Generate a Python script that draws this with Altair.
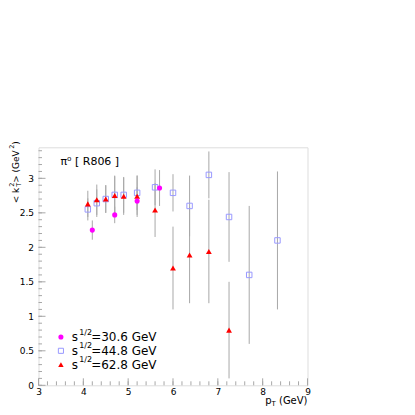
import altair as alt
import pandas as pd

# ---- data ----
x_306 = [4.2, 4.7, 5.2, 5.7]
y_306 = [2.25, 2.47, 2.67, 2.86]
e_306 = [0.14, 0.12, 0.20, 0.26]

x_448 = [4.1, 4.3, 4.5, 4.7, 4.9, 5.2, 5.6, 6.0, 6.37, 6.8, 7.25, 7.7, 8.33]
y_448 = [2.55, 2.64, 2.70, 2.76, 2.76, 2.79, 2.87, 2.79, 2.60, 3.05, 2.44, 1.60, 2.10]
e_448 = [0.16, 0.20, 0.20, 0.28, 0.26, 0.25, 0.26, 0.27, 0.44, 0.34, 0.65, 1.00, 1.00]

x_628 = [4.1, 4.3, 4.5, 4.7, 4.9, 5.2, 5.6, 6.0, 6.37, 6.8, 7.25]
y_628 = [2.63, 2.69, 2.70, 2.75, 2.74, 2.74, 2.54, 1.70, 1.89, 1.94, 0.80]
e_628 = [0.19, 0.22, 0.20, 0.28, 0.27, 0.30, 0.39, 0.60, 0.70, 0.75, 0.70]

series = ["30.6", "44.8", "62.8"]
legend_y = [0.70, 0.50, 0.30]

x_major = [3, 4, 5, 6, 7, 8, 9]
x_minor = [round(3 + 0.2 * i, 2) for i in range(31)]
y_major = [0, 0.5, 1, 1.5, 2, 2.5, 3]
y_minor = [round(0.1 * i, 2) for i in range(35)]

W, H = 269, 238
GREY = "#a8a8a8"
FONT = "DejaVu Sans"


def frame(x, y, e, s):
    return pd.DataFrame({
        "x": x, "y": y,
        "lo": [a - b for a, b in zip(y, e)],
        "hi": [a + b for a, b in zip(y, e)],
        "s": s,
    })


df = pd.concat([
    frame(x_306, y_306, e_306, "30.6"),
    frame(x_448, y_448, e_448, "44.8"),
    frame(x_628, y_628, e_628, "62.8"),
], ignore_index=True)

xs = alt.Scale(domain=[3, 9], nice=False, zero=False)
ys = alt.Scale(domain=[0, 3.45], nice=False, zero=False)

xaxis = alt.Axis(values=x_major, ticks=False, domain=False, grid=False,
                 labelFont=FONT, labelFontSize=9, labelPadding=2,
                 labelFlush=False, labelOverlap=False, format="~g",
                 title=None, labelColor="black")
yaxis = alt.Axis(values=y_major, ticks=False, domain=False, grid=False,
                 labelFont=FONT, labelFontSize=9, labelPadding=5,
                 labelFlush=False, labelOverlap=False, format="~g",
                 title=None, labelColor="black")


def PX(field):
    return alt.X(field, scale=xs, axis=xaxis)


def PY(field):
    return alt.Y(field, scale=ys, axis=yaxis)


base = alt.Chart(df)

err = base.mark_rule(color=GREY, strokeWidth=1).encode(
    x=PX("x:Q"), y=PY("lo:Q"), y2="hi:Q",
)

sq = base.transform_filter("datum.s == '44.8'").mark_point(
    shape="square", filled=False, stroke="#9999ff", strokeWidth=1, size=30, opacity=1
).encode(x=PX("x:Q"), y=PY("y:Q"))
tri = base.transform_filter("datum.s == '62.8'").mark_point(
    shape="triangle-up", filled=True, color="#ff0000", size=34, opacity=1
).encode(x=PX("x:Q"), y=PY("y:Q"))
circ = base.transform_filter("datum.s == '30.6'").mark_point(
    shape="circle", filled=True, color="#ff00ff", size=26, opacity=1
).encode(x=PX("x:Q"), y=PY("y:Q"))

# ---- axis ticks (drawn inward, as in the reference) ----
xmaj = alt.Chart(pd.DataFrame({"x": x_major})).mark_rule(color=GREY).encode(
    x=PX("x:Q"), y=alt.value(H), y2=alt.value(H - 7))
xmin = alt.Chart(pd.DataFrame({"x": x_minor})).mark_rule(color=GREY).encode(
    x=PX("x:Q"), y=alt.value(H), y2=alt.value(H - 4))
ymaj = alt.Chart(pd.DataFrame({"y": y_major})).mark_rule(color=GREY).encode(
    y=PY("y:Q"), x=alt.value(0), x2=alt.value(7))
ymin = alt.Chart(pd.DataFrame({"y": y_minor})).mark_rule(color=GREY).encode(
    y=PY("y:Q"), x=alt.value(0), x2=alt.value(3.5))

# ---- legend ----
leg = pd.DataFrame({"s": series, "y": legend_y, "mx": [3.5] * 3, "tx": [3.74] * 3,
                    "label": ["=" + s + " GeV" for s in series]})
lbase = alt.Chart(leg)
leg_c = lbase.transform_filter("datum.s == '30.6'").mark_point(
    shape="circle", filled=True, color="#ff00ff", size=26, opacity=1
).encode(x=PX("mx:Q"), y=PY("y:Q"))
leg_s = lbase.transform_filter("datum.s == '44.8'").mark_point(
    shape="square", filled=False, stroke="#9999ff", strokeWidth=1, size=26, opacity=1
).encode(x=PX("mx:Q"), y=PY("y:Q"))
leg_t = lbase.transform_filter("datum.s == '62.8'").mark_point(
    shape="triangle-up", filled=True, color="#ff0000", size=30, opacity=1
).encode(x=PX("mx:Q"), y=PY("y:Q"))
leg_s1 = lbase.mark_text(text="s", align="left", baseline="middle", font=FONT,
                         fontSize=12, color="black").encode(x=PX("tx:Q"), y=PY("y:Q"))
leg_s2 = lbase.mark_text(text="1/2", align="left", baseline="middle", font=FONT,
                         fontSize=8, dx=7.5, dy=-4.5, color="black").encode(x=PX("tx:Q"), y=PY("y:Q"))
leg_s3 = lbase.mark_text(align="left", baseline="middle", font=FONT,
                         fontSize=12, dx=19.5, color="black").encode(
    x=PX("tx:Q"), y=PY("y:Q"), text="label:N")

# ---- in-plot title ----
title = alt.Chart(pd.DataFrame({"x": [3.49], "y": [3.24], "t": ["π⁰ [ R806 ]"]})).mark_text(
    align="left", baseline="middle", font=FONT, fontSize=11, color="black"
).encode(x=PX("x:Q"), y=PY("y:Q"), text="t:N")


# ---- axis titles built from pieces ----
def txt(t, x, y, size, dx=0, dy=0, align="left", angle=0):
    kw = dict(text=t, align=align, baseline="alphabetic", font=FONT, fontSize=size,
              dx=dx, dy=dy, color="black")
    if angle:
        kw["angle"] = angle
    return alt.Chart(pd.DataFrame({"a": [0]})).mark_text(**kw).encode(
        x=alt.value(x), y=alt.value(y))


YX, YY = -20, 56
ytitle = [
    txt("< k", YX, YY, 9, angle=270),
    txt("T", YX, YY, 6.5, dx=16.5, dy=2.5, angle=270),
    txt("2", YX, YY, 6.5, dx=16.5, dy=-5, angle=270),
    txt(" > (GeV", YX, YY, 9, dx=20.5, angle=270),
    txt("2", YX, YY, 6.5, dx=54.5, dy=-4.5, angle=270),
    txt(")", YX, YY, 9, dx=58.5, angle=270),
]
XT_Y = 256.5
xtitle = [
    txt(" (GeV)", W, XT_Y, 10, align="right"),
    txt("T", W, XT_Y, 7, dx=-31.7, dy=2, align="right"),
    txt("p", W, XT_Y, 10, dx=-36, align="right"),
]

chart = alt.layer(
    err, xmaj, xmin, ymaj, ymin, sq, tri, circ,
    leg_c, leg_s, leg_t, leg_s1, leg_s2, leg_s3, title, *ytitle, *xtitle
).properties(
    width=W, height=H,
    autosize=alt.AutoSizeParams(type="none"),
    padding={"left": 30.5, "top": 139.3, "right": 90, "bottom": 25},
).configure_view(stroke=GREY, strokeWidth=1).configure(background="white")

chart.save("out.html", embed_options={"renderer": "svg", "actions": False})
